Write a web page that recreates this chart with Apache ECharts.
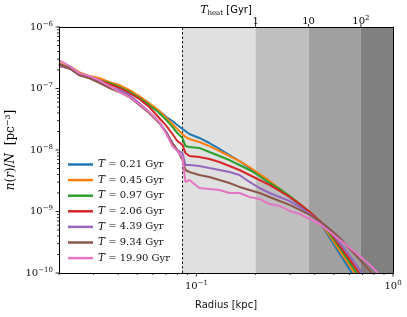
<!DOCTYPE html>
<html><head><meta charset="utf-8">
<script src="https://cdn.jsdelivr.net/npm/echarts@6/dist/echarts.min.js"></script>
<style>html,body{margin:0;padding:0;background:#fff}#c{width:407px;height:317px}</style>
</head><body><div id="c"></div>
<script>
// ---------- data ----------
const radius = [0.0200,0.0212,0.0230,0.0253,0.0284,0.0320,0.0360,0.0405,0.0455,0.0512,0.0575,0.0647,0.0703,0.0755,0.0800,0.0849,0.0879,0.0921,0.1035,0.1164,0.1309,0.1472,0.1655,0.1862,0.2094,0.2355,0.2649,0.2979,0.3355,0.3773,0.4243,0.4772,0.5367,0.6036,0.6789,0.7636,0.8588];
const n021 = [2.50e-7,2.32e-7,2.15e-7,1.78e-7,1.60e-7,1.43e-7,1.23e-7,1.10e-7,9.11e-8,7.27e-8,5.60e-8,4.31e-8,3.44e-8,2.96e-8,2.55e-8,2.19e-8,2.04e-8,1.82e-8,1.57e-8,1.30e-8,1.04e-8,8.29e-9,6.62e-9,5.09e-9,3.92e-9,3.02e-9,2.24e-9,1.72e-9,1.28e-9,9.46e-10,6.75e-10,3.71e-10,2.04e-10,1.12e-10,6.38e-11,null,null];
const n045 = [2.60e-7,2.41e-7,2.24e-7,1.85e-7,1.60e-7,1.48e-7,1.28e-7,1.14e-7,9.46e-8,7.55e-8,5.81e-8,4.31e-8,3.31e-8,2.65e-8,2.19e-8,1.82e-8,1.63e-8,1.51e-8,1.35e-8,1.16e-8,9.63e-9,7.99e-9,6.62e-9,5.29e-9,4.07e-9,3.14e-9,2.33e-9,1.79e-9,1.32e-9,9.82e-10,6.75e-10,4.00e-10,2.28e-10,1.30e-10,7.41e-11,null,null];
const n097 = [2.50e-7,2.32e-7,2.15e-7,1.78e-7,1.54e-7,1.37e-7,1.23e-7,1.06e-7,8.78e-8,7.01e-8,5.39e-8,4.00e-8,3.07e-8,2.37e-8,1.89e-8,1.57e-8,1.16e-8,1.12e-8,1.08e-8,9.28e-9,7.99e-9,6.87e-9,5.70e-9,4.73e-9,3.78e-9,2.91e-9,2.33e-9,1.79e-9,1.32e-9,9.82e-10,7.01e-10,4.31e-10,2.55e-10,1.46e-10,8.29e-11,null,null];
const n206 = [2.32e-7,2.24e-7,2.07e-7,1.66e-7,1.54e-7,1.37e-7,1.18e-7,1.02e-7,8.45e-8,6.75e-8,5.00e-8,3.31e-8,2.46e-8,1.82e-8,1.40e-8,1.21e-8,8.93e-9,7.99e-9,7.69e-9,7.14e-9,6.38e-9,5.49e-9,4.73e-9,3.92e-9,3.25e-9,2.70e-9,2.16e-9,1.72e-9,1.32e-9,9.82e-10,7.01e-10,4.64e-10,2.75e-10,1.63e-10,9.63e-11,5.70e-11,null];
const n439 = [2.41e-7,2.24e-7,2.07e-7,1.66e-7,1.48e-7,1.28e-7,1.06e-7,9.46e-8,7.84e-8,5.81e-8,4.15e-8,2.85e-8,1.96e-8,1.30e-8,1.00e-8,8.93e-9,5.70e-9,5.70e-9,5.49e-9,5.09e-9,4.73e-9,4.39e-9,3.92e-9,3.02e-9,2.41e-9,2.00e-9,1.72e-9,1.48e-9,1.18e-9,9.11e-10,6.75e-10,4.82e-10,3.07e-10,1.89e-10,1.12e-10,6.62e-11,null];
const n934 = [2.50e-7,2.32e-7,2.07e-7,1.66e-7,1.48e-7,1.23e-7,1.02e-7,8.78e-8,7.27e-8,5.39e-8,4.00e-8,2.75e-8,1.89e-8,1.30e-8,1.00e-8,6.87e-9,4.73e-9,4.39e-9,3.92e-9,3.64e-9,3.25e-9,2.91e-9,2.51e-9,2.24e-9,2.00e-9,1.72e-9,1.48e-9,1.28e-9,1.06e-9,8.78e-10,7.01e-10,5.19e-10,3.71e-10,2.46e-10,1.63e-10,1.08e-10,7.14e-11];
const n1990 = [2.90e-7,2.60e-7,2.24e-7,1.78e-7,1.60e-7,1.37e-7,1.10e-7,8.78e-8,7.27e-8,5.60e-8,4.15e-8,2.85e-8,1.82e-8,1.16e-8,9.63e-9,7.69e-9,3.02e-9,3.25e-9,2.41e-9,2.33e-9,2.24e-9,2.00e-9,2.00e-9,1.72e-9,1.60e-9,1.32e-9,1.23e-9,1.02e-9,9.11e-10,7.55e-10,6.26e-10,4.64e-10,3.44e-10,2.55e-10,1.89e-10,1.35e-10,9.27e-11];
const times = ['0.21','0.45','0.97','2.06','4.39','9.34','19.90'];
const colors = ['#1f77b4','#ff7f0e','#2ca02c','#d62728','#9467bd','#8c564b','#e377c2'];
const curves = [n021,n045,n097,n206,n439,n934,n1990];

const rCut = 0.085;                       // dashed line
const shadeEdges = [0.085, 0.2, 0.372, 0.687, 1.0];
const shadeColors = ['#e0e0e0','#bfbfbf','#a0a0a0','#808080'];
const theatTickPos = [0.2, 0.372, 0.687];
const theatTickLabels = ['1','10','10^2'];
const xMajorTicks = [0.1, 1];
const xMinorTicks = [0.02,0.03,0.04,0.05,0.06,0.07,0.08,0.09,0.2,0.3,0.4,0.5,0.6,0.7,0.8,0.9];
const yMajorTicks = [1e-10,1e-9,1e-8,1e-7,1e-6];
const yMinorMult = [2,3,4,5,6,7,8,9];
const yMinorTicks = [];
[1e-10,1e-9,1e-8,1e-7].forEach(d => yMinorMult.forEach(k => yMinorTicks.push(k*d)));

const X_MIN = 0.02, X_MAX = 1, Y_MIN = 1e-10, Y_MAX = 1e-6;
// ---------- chart ----------
const SERIF = "'DejaVu Serif','Liberation Serif',serif";
const SANS = "'DejaVu Sans',sans-serif";
const TXT = '#111';
const chart = echarts.init(document.getElementById('c'), null, {renderer:'canvas'});

function powLabel(v){
  const l = Math.log10(v), e = Math.round(l);
  if (Math.abs(l - e) > 1e-6) return '';
  return '{b|10}{s|' + (e < 0 ? '\u2212' + (-e) : e) + '}';
}
const powRich = {
  b:{fontFamily:SERIF,fontSize:10,lineHeight:13,color:TXT},
  s:{fontFamily:SERIF,fontSize:7,lineHeight:8,verticalAlign:'top',color:TXT}
};

function tickSeries(data, dir){
  return {
    type:'custom', silent:true, z:20, clip:false,
    data: data,
    renderItem: function(params, api){
      const p = api.coord([api.value(0), api.value(1)]);
      const len = api.value(2);
      let shape;
      if (dir === 'down') shape = {x1:p[0],y1:p[1],x2:p[0],y2:p[1]+len};
      else if (dir === 'left') shape = {x1:p[0]-len,y1:p[1],x2:p[0],y2:p[1]};
      else shape = {x1:p[0],y1:p[1],x2:p[0],y2:p[1]-len};
      const children = [{type:'line', shape:shape, style:{stroke:'#000', lineWidth:0.8}}];
      if (dir === 'up') {
        const lab = theatTickLabels[params.dataIndex];
        const parts = lab.split('^');
        const txt = parts.length > 1 ? '{b|' + parts[0] + '}{s|' + parts[1] + '}' : '{b|' + lab + '}';
        children.push({type:'text', x:p[0], y:p[1]+1, style:{text:txt, align:'center', verticalAlign:'bottom', rich:powRich}});
      }
      return {type:'group', children:children};
    }
  };
}

const lineSeries = curves.map((vals, i) => ({
  type:'line', name: times[i],
  data: radius.map((r, j) => [r, vals[j]]).filter(d => d[1] !== null),
  showSymbol:false, symbol:'none', clip:true, silent:true,
  lineStyle:{width:2, color:colors[i]}, itemStyle:{color:colors[i]},
  z: 3 + i
}));

const bgSeries = {
  type:'line', name:'bg', data:[], silent:true, z:1,
  markArea:{silent:true, data: shadeColors.map((c, i) => [
    {xAxis: shadeEdges[i], itemStyle:{color:c, opacity:1}}, {xAxis: shadeEdges[i+1]}
  ])}
};
const cutSeries = {
  type:'line', name:'cut', data:[[rCut, Y_MIN],[rCut, Y_MAX]], silent:true, z:2,
  showSymbol:false, symbol:'none',
  lineStyle:{color:'#000', type:[2.5,2], width:0.9}
};

const option = {
  animation:false,
  grid:{left:59, right:14, top:27, bottom:44},
  xAxis:[
    {type:'log', min:X_MIN, max:X_MAX, logBase:10, z:30,
     axisLine:{show:true, onZero:false, lineStyle:{color:'#000', width:1}},
     axisTick:{show:false}, splitLine:{show:false}, minorTick:{show:false},
     axisLabel:{formatter:powLabel, rich:powRich, margin:7, showMinLabel:false},
     name:'Radius [kpc]', nameLocation:'middle', nameGap:27,
     nameTextStyle:{fontFamily:SANS, fontSize:10, color:TXT}},
    {type:'log', min:X_MIN, max:X_MAX, position:'top', z:30,
     axisLine:{show:true, lineStyle:{color:'#000', width:1}},
     axisTick:{show:false}, axisLabel:{show:false}, splitLine:{show:false}}
  ],
  yAxis:[
    {type:'log', min:Y_MIN, max:Y_MAX, logBase:10, z:30,
     axisLine:{show:true, onZero:false, lineStyle:{color:'#000', width:1}},
     axisTick:{show:false}, splitLine:{show:false},
     axisLabel:{formatter:powLabel, rich:powRich, margin:6}},
    {type:'log', min:Y_MIN, max:Y_MAX, position:'right', z:30,
     axisLine:{show:true, lineStyle:{color:'#000', width:1}},
     axisTick:{show:false}, axisLabel:{show:false}, splitLine:{show:false}}
  ],
  legend:{
    data: times, orient:'vertical', left:63, top:153, padding:5,
    icon:'rect', itemWidth:25, itemHeight:2.5, itemGap:2.6,
    formatter: name => '{i|T}{r| = ' + name + ' Gyr}',
    textStyle:{fontFamily:SERIF, fontSize:10, lineHeight:13, color:TXT,
      rich:{i:{fontFamily:SERIF, fontStyle:'italic', fontSize:10.5, lineHeight:13, color:TXT},
            r:{fontFamily:SERIF, fontSize:10, lineHeight:13, color:TXT}}}
  },
  graphic:[
    {type:'text', x:226, y:10, style:{
      text:'{i|T}{sub|heat}{g| [Gyr]}', align:'center', verticalAlign:'middle',
      rich:{i:{fontFamily:SERIF, fontStyle:'italic', fontSize:11, lineHeight:14, color:TXT},
            sub:{fontFamily:SERIF, fontSize:7, lineHeight:8, verticalAlign:'bottom', color:TXT},
            g:{fontFamily:SANS, fontSize:10, lineHeight:14, color:TXT}}}},
    {type:'text', x:11, y:150, rotation:Math.PI/2, style:{
      text:'{i|n}{r|(}{i|r}{r|)/}{i|N}{r|  [pc}{s|\u22123}{r|]}', align:'center', verticalAlign:'middle',
      rich:{i:{fontFamily:SERIF, fontStyle:'italic', fontSize:12, lineHeight:15, color:TXT},
            r:{fontFamily:SERIF, fontSize:12, lineHeight:15, color:TXT},
            s:{fontFamily:SERIF, fontSize:8, lineHeight:9, verticalAlign:'top', color:TXT}}}}
  ],
  series:[
    bgSeries,
    cutSeries,
    ...lineSeries,
    tickSeries(xMajorTicks.map(v => [v, Y_MIN, 3.5]), 'down'),
    tickSeries(xMinorTicks.map(v => [v, Y_MIN, 2]), 'down'),
    tickSeries(yMajorTicks.map(v => [X_MIN, v, 3.5]), 'left'),
    tickSeries(yMinorTicks.map(v => [X_MIN, v, 2]), 'left'),
    tickSeries(theatTickPos.map(v => [v, Y_MAX, 3]), 'up')
  ]
};
chart.setOption(option);
</script>
</body></html>
